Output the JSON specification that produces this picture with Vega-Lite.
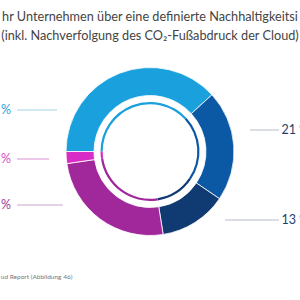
{
  "$schema": "https://vega.github.io/schema/vega-lite/v6.json",
  "width": 300,
  "height": 297,
  "padding": {"top": 3, "left": 0, "right": 0, "bottom": 0},
  "autosize": {"type": "none"},
  "background": "white",
  "config": {"view": {"stroke": null}},
  "title": {
    "text": ["hr Unternehmen über eine definierte Nachhaltigkeitsi", "(inkl. Nachverfolgung des CO₂-Fußabdruck der Cloud)"],
    "anchor": "middle",
    "frame": "group",
    "orient": "top",
    "offset": -40,
    "font": "Lato",
    "fontSize": 12.7,
    "fontWeight": "normal",
    "color": "#444444",
    "lineHeight": 19.5
  },
  "data": {
    "values": [
      {"cat": "cyan", "value": 38.2, "label": "38 %", "slot": 0, "side": "left", "idx": 1},
      {"cat": "darkblue", "value": 21.3, "label": "21 %", "slot": 1, "side": "right", "idx": 2},
      {"cat": "navy", "value": 13.0, "label": "13 %", "slot": 4, "side": "right", "idx": 3},
      {"cat": "purple", "value": 25.2, "label": "25 %", "slot": 3, "side": "left", "idx": 4},
      {"cat": "magenta", "value": 2.3, "label": "2 %", "slot": 2, "side": "left", "idx": 5}
    ]
  },
  "layer": [
    {
      "mark": {"type": "arc", "outerRadius": 84, "innerRadius": 56, "stroke": "white", "strokeWidth": 0.8},
      "encoding": {
        "theta": {"field": "value", "type": "quantitative", "stack": true, "scale": {"range": [4.712389, 10.995574]}},
        "order": {"field": "idx", "type": "quantitative"},
        "color": {"field": "cat", "type": "nominal", "legend": null,
          "scale": {"domain": ["cyan", "darkblue", "navy", "purple", "magenta"], "range": ["#1aa0dc", "#0b58a4", "#0f3a72", "#a0289b", "#d92bc6"]}}
      }
    },
    {
      "mark": {"type": "arc", "outerRadius": 49.5, "innerRadius": 47.3},
      "encoding": {
        "theta": {"field": "value", "type": "quantitative", "stack": true, "scale": {"range": [4.712389, 10.995574]}},
        "order": {"field": "idx", "type": "quantitative"},
        "color": {"field": "cat", "type": "nominal", "legend": null,
          "scale": {"domain": ["cyan", "darkblue", "navy", "purple", "magenta"], "range": ["#1aa0dc", "#0b58a4", "#0f3a72", "#a0289b", "#d92bc6"]}}
      }
    },
    {
      "transform": [{"filter": "datum.side === 'left'"}],
      "mark": {"type": "rule", "strokeWidth": 1},
      "encoding": {
        "x": {"field": "slot", "type": "quantitative", "title": "ud Report (Abbildung 46)",
          "scale": {"domain": [0, 1, 2, 3, 4, 5, 6], "range": [57, 250, 49, 63, 225, 17, 279], "zero": false, "nice": false},
          "axis": {"domain": false, "ticks": false, "labels": false, "grid": false, "titleFont": "Lato", "titleFontSize": 6.5, "titleFontWeight": "normal", "titleColor": "#777777", "titleAnchor": "start", "titleAlign": "left", "titleBaseline": "middle", "titleX": 0.3, "titleY": -24}},
        "x2": {"datum": 5},
        "y": {"field": "slot", "type": "quantitative", "axis": null,
          "scale": {"domain": [0, 1, 2, 3, 4], "range": [107, 127, 156, 202, 217], "zero": false, "nice": false}},
        "stroke": {"field": "cat", "type": "nominal", "legend": null,
          "scale": {"domain": ["cyan", "darkblue", "navy", "purple", "magenta"], "range": ["#a6d3ea", "#b5bdc5", "#b5bdc5", "#c9a3c9", "#dc90d4"]}}
      }
    },
    {
      "transform": [{"filter": "datum.side === 'right'"}],
      "mark": {"type": "rule", "strokeWidth": 1},
      "encoding": {
        "x": {"field": "slot", "type": "quantitative", "title": "ud Report (Abbildung 46)"},
        "x2": {"datum": 6},
        "y": {"field": "slot", "type": "quantitative", "axis": null},
        "stroke": {"field": "cat", "type": "nominal", "legend": null}
      }
    },
    {
      "transform": [{"filter": "datum.side === 'left'"}],
      "mark": {"type": "text", "align": "right", "baseline": "middle", "dx": -6, "font": "Lato", "fontSize": 12.5},
      "encoding": {
        "x": {"datum": 5, "type": "quantitative", "title": "ud Report (Abbildung 46)"},
        "y": {"field": "slot", "type": "quantitative", "axis": null},
        "text": {"field": "label"},
        "fill": {"field": "cat", "type": "nominal", "legend": null,
          "scale": {"domain": ["cyan", "darkblue", "navy", "purple", "magenta"], "range": ["#29a3da", "#1c3f6f", "#1c3f6f", "#a0399b", "#d94cc7"]}}
      }
    },
    {
      "transform": [{"filter": "datum.side === 'right'"}],
      "mark": {"type": "text", "align": "left", "baseline": "middle", "dx": 2.5, "font": "Lato", "fontSize": 12.5},
      "encoding": {
        "x": {"datum": 6, "type": "quantitative", "title": "ud Report (Abbildung 46)"},
        "y": {"field": "slot", "type": "quantitative", "axis": null},
        "text": {"field": "label"},
        "fill": {"field": "cat", "type": "nominal", "legend": null}
      }
    }
  ]
}
